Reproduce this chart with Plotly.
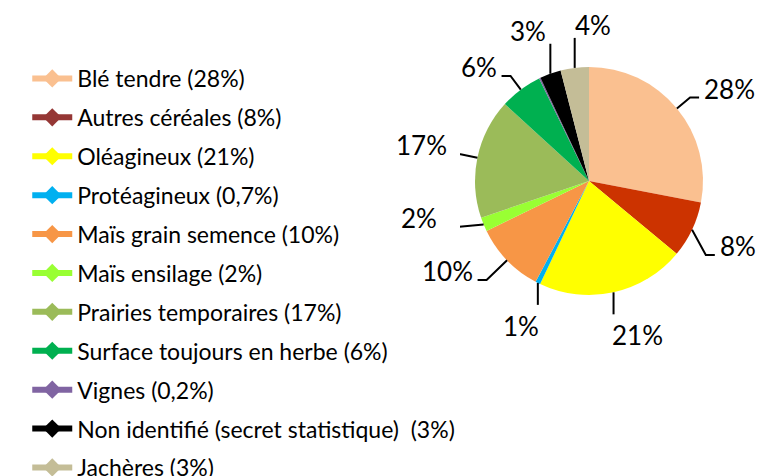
import math
import plotly.graph_objects as go

categories = ["Blé tendre (28%)", "Autres céréales (8%)", "Oléagineux (21%)",
              "Protéagineux (0,7%)", "Maïs grain semence (10%)", "Maïs ensilage (2%)",
              "Prairies temporaires (17%)", "Surface toujours en herbe (6%)",
              "Vignes (0,2%)", "Non identifié (secret statistique)  (3%)", "Jachères (3%)"]
values = [28, 8, 21, 0.7, 10, 2, 17, 6, 0.2, 3, 4]
slice_labels = ["28%", "8%", "21%", "1%", "10%", "2%", "17%", "6%", "", "3%", "4%"]
slice_colors = ["#FAC090", "#CC3300", "#FFFF00", "#00B0F0", "#F79646", "#99FF33",
                "#9BBB59", "#00B050", "#8064A2", "#000000", "#C4BD97"]
legend_colors = ["#FAC090", "#953735", "#FFFF00", "#00B0F0", "#F79646", "#99FF33",
                 "#9BBB59", "#00B050", "#8064A2", "#000000", "#C4BD97"]
# label styling tweaks (style only): side of vertical leader lines, elbow nudges
top_label_side = {9: "right", 10: "left"}
elbow_nudge = {1: (-12, 13), 5: (-6, -8)}

W, H = 757, 476
cx, cy, r = 589, 181, 114
LABEL_FONT = 26


def px(x):
    return x / W


def py(y):
    return 1 - y / H


fig = go.Figure()
fig.add_trace(go.Pie(
    labels=categories, values=values,
    textinfo="none",
    marker=dict(colors=slice_colors, line=dict(width=0)),
    sort=False, direction="clockwise", rotation=0,
    showlegend=False, hoverinfo="label",
    domain=dict(x=[px(cx - r), px(cx + r)], y=[py(cy + r), py(cy - r)]),
))

# leader lines + labels derived from the slice angles
total = sum(values)
cum = 0.0
shapes, annos = [], []
for i, v in enumerate(values):
    mid = (cum + v / 2) / total * 2 * math.pi
    cum += v
    if not slice_labels[i]:
        continue
    s, c = math.sin(mid), -math.cos(mid)
    x0, y0 = cx + r * s, cy + r * c
    if abs(s) > 0.5:
        k = 1.15 if c < 0.3 else 1.25
        dx, dy = elbow_nudge.get(i, (0, 0))
        x1, y1 = cx + r * k * s + dx, cy + r * k * c + dy
        sign = 1 if s > 0 else -1
        x2, y2 = x1 + 9 * sign, y1
        path = f"M {px(x0)},{py(y0)} L {px(x1)},{py(y1)} L {px(x2)},{py(y2)}"
        annos.append(dict(x=px(x2 + 3 * sign), y=py(y2 - 9), text=slice_labels[i],
                          xanchor="left" if sign > 0 else "right", yanchor="middle"))
    else:
        down = c > 0
        x1, y1 = x0, y0 + (22 if down else -30)
        path = f"M {px(x0)},{py(y0)} L {px(x1)},{py(y1)}"
        if down:
            side = "left" if s > 0 else "right"
            annos.append(dict(x=px(x1 + (-4 if side == "left" else 3)), y=py(y1 + 21),
                              text=slice_labels[i], xanchor=side, yanchor="middle"))
        else:
            side = top_label_side.get(i, "right")
            annos.append(dict(x=px(x1 + (-2 if side == "right" else -2)), y=py(y1 - 13),
                              text=slice_labels[i], xanchor=side, yanchor="middle"))
    shapes.append(dict(type="path", path=path, xref="paper", yref="paper",
                       line=dict(color="black", width=2)))

for a in annos:
    a.update(xref="paper", yref="paper", showarrow=False,
             font=dict(size=LABEL_FONT, color="black", family="Lato"))

for i, (name, col) in enumerate(zip(categories, legend_colors)):
    fig.add_trace(go.Scatter(
        x=[None], y=[None], name=name, mode="lines+markers",
        line=dict(color=col, width=6),
        marker=dict(symbol="diamond", size=14, color=col),
        legendgroup=str(i), showlegend=True, hoverinfo="skip",
    ))

fig.update_layout(
    width=W, height=H, margin=dict(l=0, r=0, t=0, b=0, autoexpand=False),
    paper_bgcolor="white", plot_bgcolor="white",
    xaxis=dict(visible=False), yaxis=dict(visible=False),
    shapes=shapes, annotations=annos,
    legend=dict(x=0.036, y=py(57), xanchor="left", yanchor="top",
                font=dict(size=23, family="Lato", color="black"),
                tracegroupgap=6, traceorder="grouped", itemwidth=40),
)
fig.write_html("out.html", config={"displayModeBar": False},
               post_script="document.body.style.margin='0';")
